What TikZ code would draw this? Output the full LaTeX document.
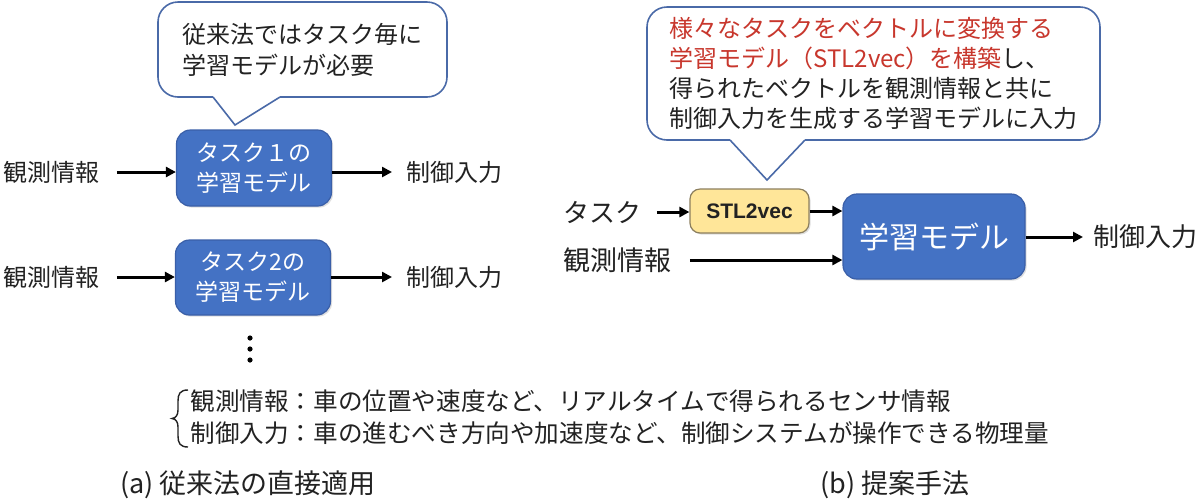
\documentclass[tikz,border=0pt]{standalone}
\usepackage{fontspec}
\setmainfont{Noto Sans CJK JP}
\newfontfamily\arialfont{Liberation Sans}
\usetikzlibrary{arrows.meta,shadows}
\definecolor{boxblue}{HTML}{4472C4}
\definecolor{boxedge}{HTML}{3A5FA8}
\definecolor{callblue}{HTML}{4A6AA8}
\definecolor{stlfill}{HTML}{FFE699}
\definecolor{stledge}{HTML}{8C7F5E}
\definecolor{redtext}{HTML}{C8372D}
\definecolor{ink}{HTML}{222222}
\begin{document}
\begin{tikzpicture}[x=0.5pt,y=-0.5pt,
  arr/.style={draw=black, line width=1.5pt, -{Triangle[length=5pt,width=5pt]}},
  bluebox/.style={draw=boxedge, line width=0.6pt, fill=boxblue, rounded corners=7pt, text=white, align=center, inner sep=0pt,
    drop shadow={opacity=0.25,shadow xshift=0.8pt,shadow yshift=-0.8pt}},
  stlbox/.style={draw=stledge, line width=0.6pt, fill=stlfill, rounded corners=5pt, text=ink, inner sep=0pt,
    drop shadow={opacity=0.25,shadow xshift=0.8pt,shadow yshift=-0.8pt}},
  callout/.style={draw=callblue, line width=0.8pt, fill=white, rounded corners=10pt, align=left, inner sep=0pt, text=ink},
  tail/.style={draw=callblue, line width=0.8pt, line join=miter},
  lbl/.style={text=ink, inner sep=0pt, anchor=west},
  dot/.style={fill=black},
]
\useasboundingbox (0,0) rectangle (1200,500);
\fill[white] (0,0) rectangle (1200,500);

% ---------- (a) ----------
\node[callout, minimum width=144.5pt, minimum height=47.5pt, font=\fontsize{12}{15.5}\selectfont] (c1) at (302.5,49.5)
  {従来法ではタスク毎に\\学習モデルが必要};
\fill[white] (213.5,95.5) -- (279.5,95.5) -- (280,97) -- (235,125) -- (213,97) -- cycle;
\draw[tail] (213,97) -- (235,125) -- (280,97);

\node[bluebox, minimum width=77.5pt, minimum height=38pt, font=\fontsize{11.5}{15}\selectfont] (m1) at (254,168)
  {タスク１の\\学習モデル};
\node[bluebox, minimum width=77.5pt, minimum height=37.5pt, font=\fontsize{11.5}{15}\selectfont] (m2) at (253,277.5)
  {タスク2の\\学習モデル};

\node[lbl, font=\fontsize{12}{14}\selectfont] (obs1) at (3,172) {観測情報};
\node[lbl, font=\fontsize{12}{14}\selectfont] (out1) at (406,172) {制御入力};
\node[lbl, font=\fontsize{12}{14}\selectfont] (obs2) at (3,277) {観測情報};
\node[lbl, font=\fontsize{12}{14}\selectfont] (out2) at (406,277) {制御入力};

\draw[arr] ([xshift=8.5pt]obs1.east) -- (obs1.east -| m1.west);
\draw[arr] (m1.east |- out1.west) -- ([xshift=-7pt]out1.west);
\draw[arr] ([xshift=8.5pt]obs2.east) -- (obs2.east -| m2.west);
\draw[arr] (m2.east |- out2.west) -- ([xshift=-7pt]out2.west);

\fill[dot] (250,338) circle (1.3pt);
\fill[dot] (250,349) circle (1.3pt);
\fill[dot] (250,360) circle (1.3pt);

% ---------- (b) ----------
\node[callout, minimum width=226.5pt, minimum height=66.5pt, font=\fontsize{12}{14.9}\selectfont] (c2) at (873.5,73.5)
  {\textcolor{redtext}{様々なタスクをベクトルに変換する}\\
   \textcolor{redtext}{学習モデル（STL2vec）を構築}し、\\
   得られたベクトルを観測情報と共に\\
   制御入力を生成する学習モデルに入力};
\fill[white] (730.5,138.5) -- (804.5,138.5) -- (805,140) -- (767,180) -- (730,140) -- cycle;
\draw[tail] (730,140) -- (767,180) -- (805,140);

\node[stlbox, minimum width=59.5pt, minimum height=22pt, font=\arialfont\bfseries\fontsize{10.5}{12}\selectfont] (stl) at (749.5,211) {STL2vec};
\node[bluebox, minimum width=91pt, minimum height=42.5pt, font=\fontsize{15}{18}\selectfont] (lm) at (934,236.5) {学習モデル};

\node[lbl, font=\fontsize{13}{15}\selectfont] (task) at (563,212) {タスク};
\node[lbl, font=\fontsize{13.5}{15}\selectfont] (obs3) at (563,260) {観測情報};
\node[lbl, font=\fontsize{13}{15}\selectfont] (out3) at (1093,237) {制御入力};

\draw[arr] ([xshift=7.5pt]task.east) -- (task.east -| stl.west);
\draw[arr] (stl.east) -- (stl.east -| lm.west);
\draw[arr] ([xshift=9pt]obs3.east) -- (obs3.east -| lm.west);
\draw[arr] (lm.east |- out3.west) -- ([xshift=-5pt]out3.west);

% ---------- legend ----------
\draw[ink, line width=0.7pt] (188,390) .. controls (180,390) and (178,394) .. (178,401) -- (178,410)
  .. controls (178,415) and (176,418) .. (172,418.5)
  .. controls (176,419) and (178,422) .. (178,427) -- (178,436)
  .. controls (178,443) and (180,447) .. (188,447);
\node[lbl, font=\fontsize{12.3}{15}\selectfont] (d1) at (190,401) {観測情報：車の位置や速度など、リアルタイムで得られるセンサ情報};
\node[lbl, font=\fontsize{12.3}{15}\selectfont] (d2) at (190,433) {制御入力：車の進むべき方向や加速度など、制御システムが操作できる物理量};

\node[lbl, font=\fontsize{13.5}{15}\selectfont] (capa) at (120,485) {(a) 従来法の直接適用};
\node[lbl, font=\fontsize{13.5}{15}\selectfont] (capb) at (820,485) {(b) 提案手法};
\end{tikzpicture}
\end{document}
